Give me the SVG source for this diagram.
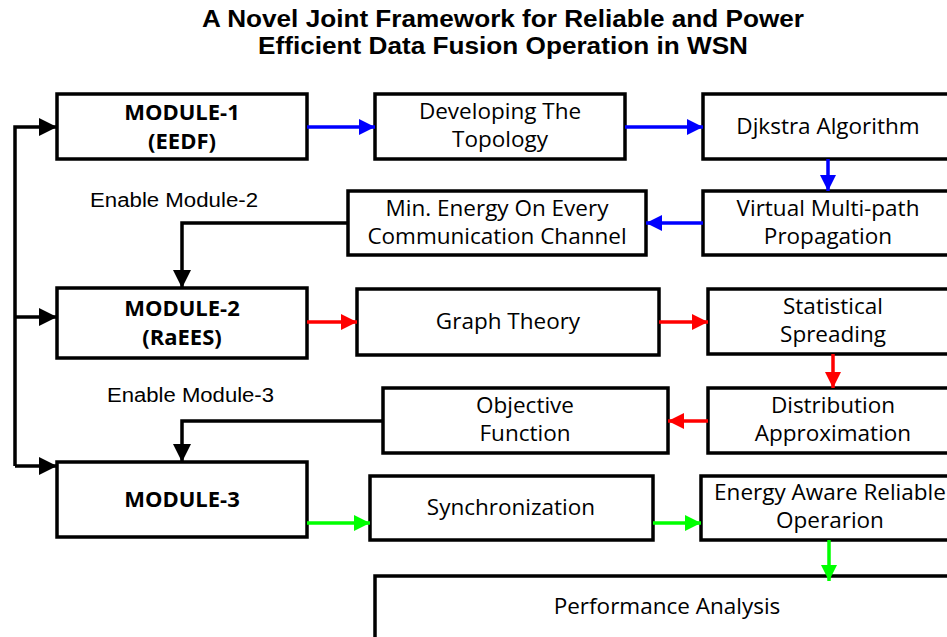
<svg xmlns="http://www.w3.org/2000/svg" width="947" height="637" viewBox="0 0 947 637">
<defs>
<style>
.box{fill:#fff;stroke:#000;stroke-width:3.5}
.t{font-family:"Open Sans","Liberation Sans",sans-serif;font-size:22.5px;fill:#000;text-anchor:middle}
.m{font-family:"Open Sans","Liberation Sans",sans-serif;font-size:22px;font-weight:bold;fill:#000;text-anchor:middle}
.lbl{font-family:"Liberation Sans",Arial,sans-serif;font-size:20px;fill:#000}
.title{font-family:"Liberation Sans",Arial,sans-serif;font-size:23px;font-weight:bold;fill:#000;text-anchor:middle}
.k{fill:none;stroke:#000;stroke-width:3.5}
.b{fill:none;stroke:#0000ff;stroke-width:3.5}
.r{fill:none;stroke:#ff0000;stroke-width:3.5}
.g{fill:none;stroke:#00ff00;stroke-width:3.5}
</style>
<marker id="ak" viewBox="0 0 10 10" refX="10" refY="5" markerUnits="userSpaceOnUse" markerWidth="24" markerHeight="18" orient="auto"><path d="M0,0 L10,5 L0,10 z" fill="#000"/></marker>
<marker id="ab" viewBox="0 0 10 10" refX="10" refY="5" markerUnits="userSpaceOnUse" markerWidth="22" markerHeight="16" orient="auto"><path d="M0,0 L10,5 L0,10 z" fill="#0000ff"/></marker>
<marker id="ar" viewBox="0 0 10 10" refX="10" refY="5" markerUnits="userSpaceOnUse" markerWidth="22" markerHeight="16" orient="auto"><path d="M0,0 L10,5 L0,10 z" fill="#ff0000"/></marker>
<marker id="ag" viewBox="0 0 10 10" refX="10" refY="5" markerUnits="userSpaceOnUse" markerWidth="22" markerHeight="16" orient="auto"><path d="M0,0 L10,5 L0,10 z" fill="#00ff00"/></marker>
</defs>
<rect width="947" height="637" fill="#fff"/>
<g id="title">
<text class="title" x="503" y="27" textLength="602" lengthAdjust="spacingAndGlyphs">A Novel Joint Framework for Reliable and Power</text>
<text class="title" x="503" y="54" textLength="490" lengthAdjust="spacingAndGlyphs">Efficient Data Fusion Operation in WSN</text>
</g>
<g id="module1"><rect class="box" x="57" y="94" width="250" height="65"/><text class="m" x="182" y="120">MODULE-1</text><text class="m" x="182" y="149">(EEDF)</text></g>
<g id="topology"><rect class="box" x="375" y="94" width="250" height="65"/><text class="t" x="500" y="119">Developing The</text><text class="t" x="500" y="147">Topology</text></g>
<g id="djkstra"><rect class="box" x="703" y="94" width="260" height="65"/><text class="t" x="828" y="134">Djkstra Algorithm</text></g>
<g id="virtual"><rect class="box" x="703" y="191" width="260" height="64"/><text class="t" x="828" y="216">Virtual Multi-path</text><text class="t" x="828" y="244">Propagation</text></g>
<g id="minenergy"><rect class="box" x="348" y="191" width="298" height="64"/><text class="t" x="497" y="216">Min. Energy On Every</text><text class="t" x="497" y="244">Communication Channel</text></g>
<g id="enable2"><text class="lbl" x="90" y="207" textLength="168" lengthAdjust="spacingAndGlyphs">Enable Module-2</text></g>
<g id="module2"><rect class="box" x="57" y="288" width="250" height="70"/><text class="m" x="182" y="316">MODULE-2</text><text class="m" x="182" y="345">(RaEES)</text></g>
<g id="graph"><rect class="box" x="357" y="289" width="302" height="66"/><text class="t" x="508" y="329">Graph Theory</text></g>
<g id="statistical"><rect class="box" x="708" y="289" width="260" height="65"/><text class="t" x="833" y="314">Statistical</text><text class="t" x="833" y="342">Spreading</text></g>
<g id="distribution"><rect class="box" x="708" y="388" width="260" height="65"/><text class="t" x="833" y="413">Distribution</text><text class="t" x="833" y="441">Approximation</text></g>
<g id="objective"><rect class="box" x="383" y="388" width="285" height="65"/><text class="t" x="525" y="413">Objective</text><text class="t" x="525" y="441">Function</text></g>
<g id="enable3"><text class="lbl" x="107" y="402" textLength="167" lengthAdjust="spacingAndGlyphs">Enable Module-3</text></g>
<g id="module3"><rect class="box" x="57" y="462" width="250" height="75"/><text class="m" x="182" y="507">MODULE-3</text></g>
<g id="sync"><rect class="box" x="370" y="476" width="283" height="64"/><text class="t" x="511" y="515">Synchronization</text></g>
<g id="energyaware"><rect class="box" x="701" y="476" width="270" height="64"/><text class="t" x="830" y="500">Energy Aware Reliable</text><text class="t" x="830" y="528">Operarion</text></g>
<g id="performance"><rect class="box" x="375" y="576" width="600" height="80"/><text class="t" x="667" y="614">Performance Analysis</text></g>
<g id="connectors">
<path class="k" d="M15,466 V127 H57" marker-end="url(#ak)"/>
<path class="k" d="M15,317 H57" marker-end="url(#ak)"/>
<path class="k" d="M15,466 H57" marker-end="url(#ak)"/>
<path class="k" d="M348,223 H182 V288" marker-end="url(#ak)"/>
<path class="k" d="M383,421 H182 V462" marker-end="url(#ak)"/>
<path class="b" d="M307,127 H375" marker-end="url(#ab)"/>
<path class="b" d="M625,127 H703" marker-end="url(#ab)"/>
<path class="b" d="M828,159 V191" marker-end="url(#ab)"/>
<path class="b" d="M703,223 H646" marker-end="url(#ab)"/>
<path class="r" d="M307,322 H357" marker-end="url(#ar)"/>
<path class="r" d="M659,322 H708" marker-end="url(#ar)"/>
<path class="r" d="M833,354 V388" marker-end="url(#ar)"/>
<path class="r" d="M708,421 H668" marker-end="url(#ar)"/>
<path class="g" d="M307,523 H370" marker-end="url(#ag)"/>
<path class="g" d="M653,523 H701" marker-end="url(#ag)"/>
<path class="g" d="M829,540 V581" marker-end="url(#ag)"/>
</g>
</svg>
